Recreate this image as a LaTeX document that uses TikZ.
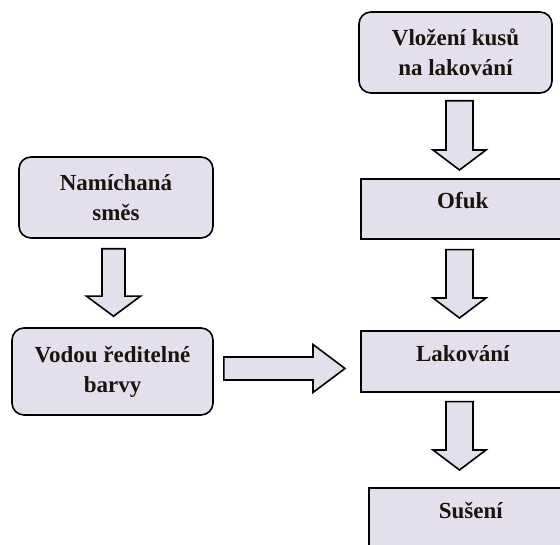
\documentclass[tikz,border=0pt]{standalone}
\usepackage{fontspec}
\setmainfont{Liberation Serif}
\usetikzlibrary{calc}
\definecolor{c1}{HTML}{000000}
\definecolor{boxfill}{HTML}{E4DFEC}
\definecolor{textcol}{HTML}{1A1410}

% block arrow: start, tip, shaft half width, head half width, head length
\newcommand{\blockarrow}[5]{%
  \draw[blockarr] let \p1=#1, \p2=#2,
      \n1={atan2(\y2-\y1,\x2-\x1)}, \n2={veclen(\x2-\x1,\y2-\y1)} in
    [shift={(\p1)}, rotate=\n1]
    (0,-#3) -- ({\n2-#5},-#3) -- ({\n2-#5},-#4) -- (\n2,0)
    -- ({\n2-#5},#4) -- ({\n2-#5},#3) -- (0,#3) -- cycle;}

\begin{document}
\begin{tikzpicture}[
    x=1pt, y=1pt,
    every node/.style={font=\fontsize{23}{30}\selectfont\bfseries, text=textcol},
    roundbox/.style={rectangle, rounded corners=12pt, draw=c1, fill=boxfill,
                     line width=1.6pt, align=center, inner sep=0pt},
    flatbox/.style={rectangle, draw=c1, fill=boxfill, line width=1.6pt,
                    anchor=north west, inner sep=0pt},
    blockarr/.style={draw=c1, fill=boxfill, line width=1.6pt, line join=miter},
]

\useasboundingbox (0,0) rectangle (560,545);
\clip (0,0) rectangle (560,545);

% ================================================================ left
\node[roundbox, minimum width=194, minimum height=81] (mix) at (116, 347.5)
    {Namíchaná\\ směs};
\node[roundbox, minimum width=201, minimum height=87] (water) at (112.5, 173.5)
    {Vodou ředitelné\\ barvy};

% ================================================================ right
\node[roundbox, minimum width=193, minimum height=81] (load) at (455.5, 492.5)
    {Vložení kusů\\ na lakování};
\node[flatbox, minimum width=204, text height=29.5, text depth=30.5] (blow)
    at (360, 367) {Ofuk};
\node[flatbox, minimum width=204, text height=31, text depth=30] (paint)
    at (360, 215) {Lakování};
\node[flatbox, minimum width=204, text height=31, text depth=42] (dry)
    at (368, 58) {Sušení};

% ================================================================ arrows
\blockarrow{($(load.south)+(4,-7)$)}{($(load.south |- blow.north)+(4,8)$)}{13.5}{26.5}{20}
\blockarrow{($(load.south |- blow.south)+(4,-10)$)}{($(load.south |- paint.north)+(4,12)$)}{13.5}{26.5}{20}
\blockarrow{($(load.south |- paint.south)+(4,-9)$)}{($(load.south |- dry.north)+(4,17)$)}{13.5}{26.5}{20}
\blockarrow{($(mix.south)+(-2.5,-10)$)}{($(mix.south |- water.north)+(-2.5,11)$)}{11.5}{27}{20}
\blockarrow{($(water.east)+(10,3)$)}{($(water.east -| paint.west)+(-15,3)$)}{11.5}{24}{32}

\end{tikzpicture}
\end{document}
